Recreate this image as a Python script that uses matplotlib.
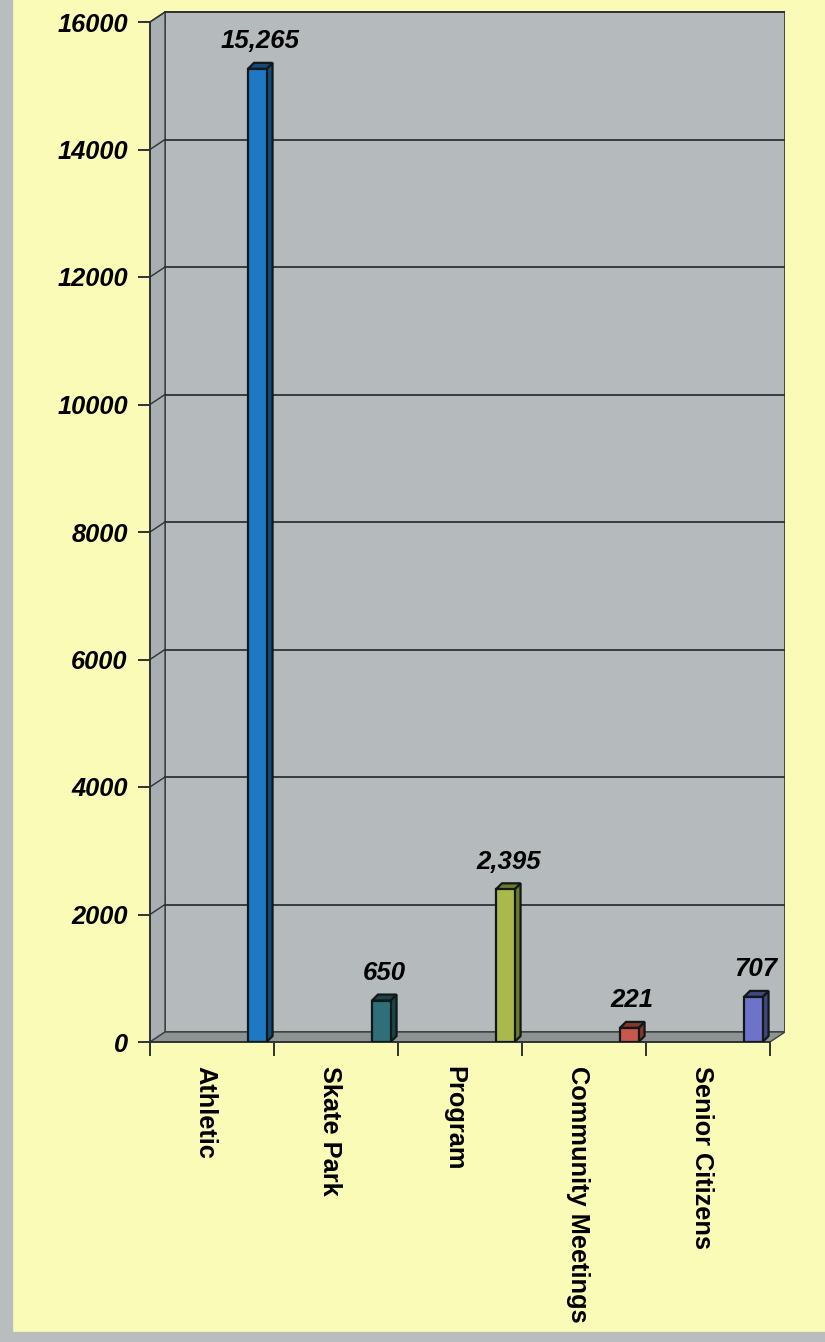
import matplotlib
matplotlib.use("Agg")
from matplotlib import pyplot as plt
from matplotlib.patches import Polygon, Rectangle
import numpy as np

categories = ["Athletic", "Skate Park", "Program", "Community Meetings", "Senior Citizens"]
values = [15265, 650, 2395, 221, 707]
value_labels = ["15,265", "650", "2,395", "221", "707"]
face_colors = ["#1f78c4", "#2f6f7a", "#a9b94c", "#c8584e", "#6f72c9"]
side_colors = ["#124a7c", "#1b434a", "#6f7a2c", "#86362f", "#44477f"]
y_ticks = [0, 2000, 4000, 6000, 8000, 10000, 12000, 14000, 16000]

W, H = 825, 1342
fig = plt.figure(figsize=(W / 100, H / 100), dpi=100)
fig.patch.set_facecolor("#fbfbb8")

# scanner edge on left and bottom
fig.patches.append(Rectangle((0, 0), 12 / W, 1, transform=fig.transFigure,
                             color="#b9bdbd", zorder=0))
fig.patches.append(Rectangle((0, 0), 1, 10 / H, transform=fig.transFigure,
                             color="#b9bdbd", zorder=0))

# axes box in pixels: front axis x=150, back wall right x=785, zero y=1042, top y=10
left, right, top, bottom = 150, 785, 10, 1042
ax = fig.add_axes([left / W, (H - bottom) / H, (right - left) / W, (bottom - top) / H])
ax.set_facecolor("none")

px_x = (770 - 150) / 5.0          # pixels per category slot
px_y = (1042 - 22) / 16000.0      # pixels per value unit
ax.set_xlim(0, (right - left) / px_x)
ax.set_ylim(0, (bottom - top) / px_y)

n = len(categories)
dx, dy = 15 / px_x, 10 / px_y     # wall depth
bdx, bdy = 6 / px_x, 6 / px_y     # bar depth
ymax = 16000
edge = "#3c4040"
font = dict(fontweight="bold", family="Liberation Sans")

# walls and floor
ax.add_patch(Polygon([(dx, dy), (n + dx, dy), (n + dx, ymax + dy), (dx, ymax + dy)],
                     closed=True, fc="#b5babc", ec=edge, lw=1.3, zorder=1))
ax.add_patch(Polygon([(0, 0), (dx, dy), (dx, ymax + dy), (0, ymax)],
                     closed=True, fc="#a9aeb0", ec=edge, lw=1.0, zorder=1))
ax.add_patch(Polygon([(0, 0), (n, 0), (n + dx, dy), (dx, dy)],
                     closed=True, fc="#8d9292", ec=edge, lw=1.0, zorder=2))

# gridlines on back and side walls
for v in y_ticks[1:]:
    ax.plot([dx, n + dx], [v + dy, v + dy], color="#2e3232", lw=1.3, zorder=2)
    ax.plot([0, dx], [v, v + dy], color="#2e3232", lw=1.0, zorder=2)

# 3D bars
bw = 0.15
for i, (v, fc, sc) in enumerate(zip(values, face_colors, side_colors)):
    x0 = i + 0.79
    x1 = x0 + bw
    ax.add_patch(Polygon([(x1, 0), (x1 + bdx, bdy), (x1 + bdx, v + bdy), (x1, v)],
                         closed=True, fc=sc, ec="#101818", lw=1.6, zorder=4))
    ax.add_patch(Polygon([(x0, v), (x1, v), (x1 + bdx, v + bdy), (x0 + bdx, v + bdy)],
                         closed=True, fc=sc, ec="#101818", lw=1.6, zorder=4))
    ax.add_patch(Rectangle((x0, 0), bw, v, fc=fc, ec="#101818", lw=1.6, zorder=5))
    ax.annotate(value_labels[i], ((x0 + x1 + bdx) / 2, v + bdy), xytext=(0, 7),
                textcoords="offset points", ha="center", va="bottom",
                fontsize=18.5, fontstyle="italic", zorder=6, **font)

# front axes
for s in ["top", "right"]:
    ax.spines[s].set_visible(False)
ax.spines["left"].set_bounds(0, ymax)
ax.spines["bottom"].set_bounds(0, n)
for s in ["left", "bottom"]:
    ax.spines[s].set_color("#2e3232")
    ax.spines[s].set_linewidth(1.4)

ax.set_yticks(y_ticks)
ax.set_yticklabels([str(t) for t in y_ticks], fontsize=18.3, fontstyle="italic", **font)
ax.tick_params(axis="y", length=9, width=1.4, color="#2e3232", pad=7)

ax.set_xticks(np.arange(n + 1))
ax.set_xticklabels([])
ax.tick_params(axis="x", which="major", length=10, width=1.4, color="#2e3232")
ax.set_xticks(np.arange(n) + 0.45, minor=True)
ax.set_xticklabels(categories, minor=True, rotation=-90, fontsize=18.3,
                   va="top", ha="center", **font)
ax.tick_params(axis="x", which="minor", length=0, pad=17)

fig.savefig("out.png", dpi=100, facecolor=fig.get_facecolor())
